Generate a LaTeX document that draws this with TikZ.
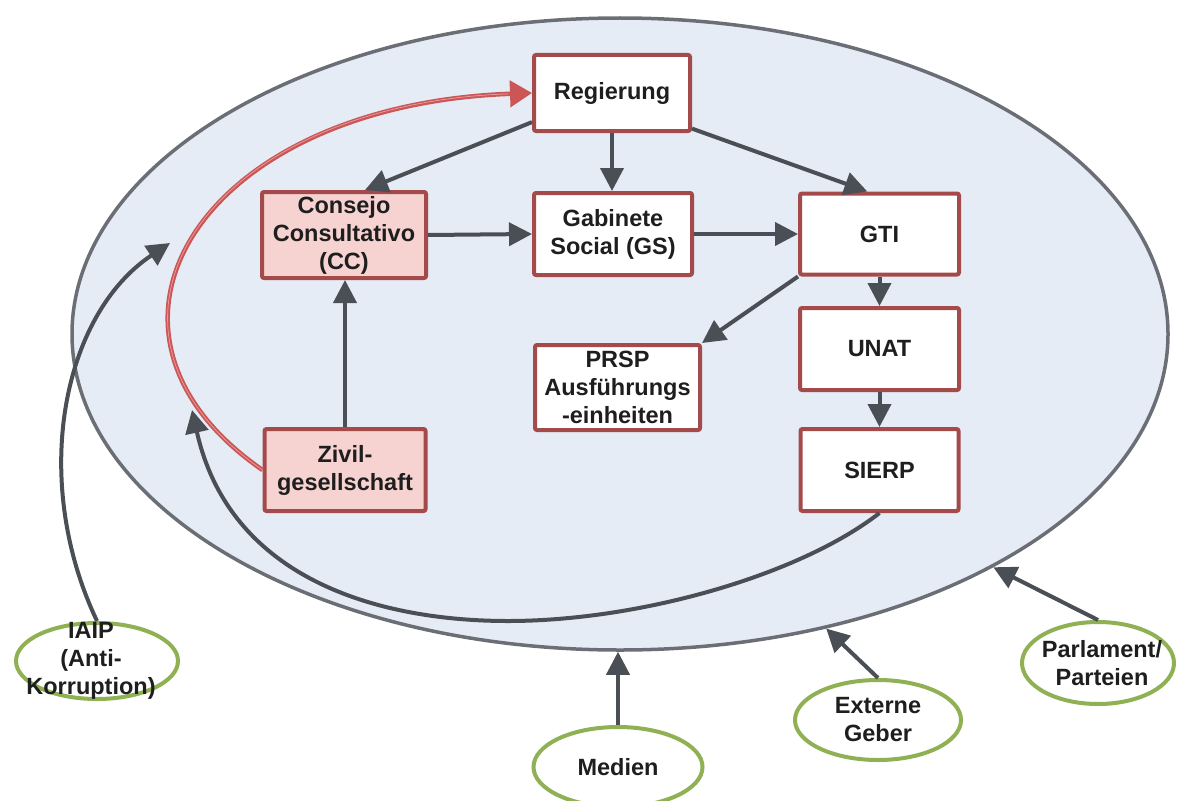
\documentclass[tikz,border=0pt]{standalone}
\usepackage{fontspec}
\setmainfont{Liberation Sans}
\usetikzlibrary{arrows.meta,shapes.geometric}
\definecolor{bgfill}{HTML}{E5ECF5}
\definecolor{ellc}{HTML}{6B6F75}
\definecolor{arrowc}{HTML}{4A4F56}
\definecolor{boxc}{HTML}{A54A4B}
\definecolor{pinkc}{HTML}{F6D2D1}
\definecolor{greenc}{HTML}{8FB154}
\definecolor{redc}{HTML}{CC5555}
\definecolor{redinner}{HTML}{E49A9A}
\definecolor{textc}{HTML}{1E1E1E}
\begin{document}
\begin{tikzpicture}[x=1pt,y=-1pt,
  txt/.style={font=\fontsize{23.5}{28}\selectfont\bfseries, text=textc, align=center},
  box/.style={draw=boxc, line width=4pt, fill=white, rounded corners=2pt, inner sep=0pt, txt},
  pinkbox/.style={box, fill=pinkc},
  actor/.style={ellipse, draw=greenc, line width=4pt, fill=white, inner sep=0pt},
  conn/.style={draw=arrowc, line width=4pt, -{Triangle[length=23pt,width=23pt]}},
]
\useasboundingbox (0,0) rectangle (1177,800);

% arena
\node[ellipse, draw=ellc, line width=3.5pt, fill=bgfill, minimum width=1096pt, minimum height=632pt, inner sep=0pt] (arena) at (620,334) {};

% boxes
\node[box, minimum width=156pt, minimum height=76pt] (reg) at (612,93) {Regierung};
\node[pinkbox, minimum width=164pt, minimum height=86pt] (cc) at (344,235) {Consejo\\Consultativo\\(CC)};
\node[box, minimum width=158pt, minimum height=82pt] (gs) at (613,234) {Gabinete\\Social (GS)};
\node[box, minimum width=159pt, minimum height=81pt] (gti) at (879.5,234) {GTI};
\node[box, minimum width=159pt, minimum height=82pt] (unat) at (879.5,349) {UNAT};
\node[box, minimum width=158pt, minimum height=82pt] (sierp) at (879.5,470) {SIERP};
\node[box, minimum width=165pt, minimum height=85pt] (prsp) at (617.5,387.5) {PRSP\\Ausführungs\\-einheiten};
\node[pinkbox, minimum width=161pt, minimum height=82pt] (zivil) at (345,470) {Zivil-\\gesellschaft};

% outside actors
\node[actor, minimum width=162pt, minimum height=76pt, label={[txt, xshift=-6pt]center:{IAIP\\(Anti-\\Korruption)}}] (iaip) at (97,661) {};
\node[actor, minimum width=169pt, minimum height=80pt, label={[txt]center:{Medien}}] (med) at (618,767) {};
\node[actor, minimum width=166pt, minimum height=80pt, label={[txt]center:{Externe\\Geber}}] (ext) at (878,720) {};
\node[actor, minimum width=152pt, minimum height=82pt, label={[txt, xshift=4pt]center:{Parlament/\\Parteien}}] (parl) at (1098,663) {};

\coordinate (iaiptip) at (170,243);
\coordinate (sierptip) at (192,410);

% red feedback curve
\draw[redc, line width=4.5pt, -{Triangle[length=22pt,width=26pt]}] (zivil.west) .. controls (60,330) and (200,105) .. (reg.west);
\draw[redinner, line width=0.8pt, shorten >=24pt] (zivil.west) .. controls (60,330) and (200,105) .. (reg.west);

% internal connectors
\draw[conn] (reg.200) -- (cc.65);
\draw[conn] (reg.south) -- (reg.south |- gs.north);
\draw[conn] (reg.-24) -- (gti.106);
\draw[conn] (cc.east) -- (gs.west);
\draw[conn] (gs.east) -- (gti.west);
\draw[conn] (gti.south west) -- (prsp.north east);
\draw[conn] (gti.south) -- (unat.north);
\draw[conn] (unat.south) -- (sierp.north);
\draw[conn] (zivil.north) -- (zivil.north |- cc.south);

% long curves
\draw[conn] (sierp.south) .. controls (800,575) and (640,621) .. (508,621) .. controls (380,621) and (230,580) .. (sierptip);
\draw[conn] (iaip.north) .. controls (30,480) and (62,315) .. (iaiptip);

% external influences
\draw[conn] (med.north) -- (med.north |- arena.south);
\draw[conn] (ext.north) -- (arena.-55.6);
\draw[conn] (parl.north) -- (arena.-32);
\end{tikzpicture}
\end{document}
